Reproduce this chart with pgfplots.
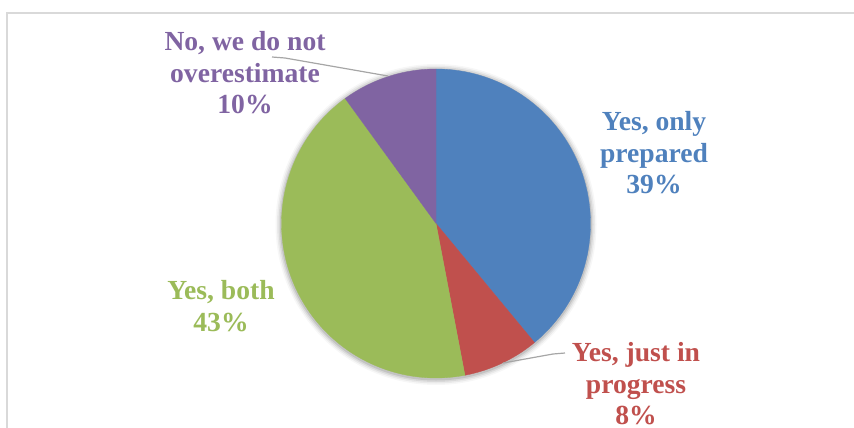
\documentclass[border=0pt]{standalone}
\usepackage{pgfplots}
\pgfplotsset{compat=1.18}
\usepackage{pgfplotstable}
\usepackage{fontspec}
\setmainfont{Liberation Serif}
\definecolor{cblue}{HTML}{4F81BD}
\definecolor{cred}{HTML}{C0504D}
\definecolor{cgreen}{HTML}{9BBB59}
\definecolor{cpurple}{HTML}{8064A2}
\definecolor{frame}{HTML}{D9D9D9}
\definecolor{leader}{HTML}{A6A6A6}
\tikzset{lbl/.style={font=\fontsize{27.6bp}{31.5bp}\selectfont\bfseries, align=center, inner sep=0pt}}
% shares in percent, clockwise from 12 o'clock
\def\vA{39} % Yes, only prepared
\def\vB{8}  % Yes, just in progress
\def\vC{43} % Yes, both
\def\vD{10} % No, we do not overestimate
\def\cx{436}\def\cy{223.5}\def\Rad{154.5}
\pgfmathsetmacro\aA{90}
\pgfmathsetmacro\aB{\aA-\vA*3.6}
\pgfmathsetmacro\aC{\aB-\vB*3.6}
\pgfmathsetmacro\aD{\aC-\vC*3.6}
\pgfmathsetmacro\aE{\aD-\vD*3.6}
\pgfmathsetmacro\rA{\Rad+6}
\pgfmathsetmacro\rB{\Rad+4.5}
\pgfmathsetmacro\rC{\Rad+3}
\pgfmathsetmacro\rD{\Rad+1.5}
\begin{document}
\begin{tikzpicture}
\begin{axis}[
  width=854bp, height=428bp, scale only axis,
  xmin=0, xmax=854, ymin=0, ymax=428, y dir=reverse,
  hide axis, clip=false,
]
% frame
\draw[frame, line width=1.2bp] (axis cs:7,428) -- (axis cs:7,13) -- (axis cs:854,13);
% soft shadow
\fill[black, opacity=0.03] (axis cs:436,224.5) circle [radius=\rA];
\fill[black, opacity=0.05] (axis cs:436,224.5) circle [radius=\rB];
\fill[black, opacity=0.07] (axis cs:436,224.5) circle [radius=\rC];
\fill[black, opacity=0.10] (axis cs:436,224.5) circle [radius=\rD];
\addplot[fill=cblue, draw=cblue, line width=0.3bp, domain=\aB:\aA, samples=100]
  ({\cx+\Rad*cos(x)},{\cy-\Rad*sin(x)}) -- (axis cs:436,223.5) -- cycle;
\addplot[fill=cred, draw=cred, line width=0.3bp, domain=\aC:\aB, samples=40]
  ({\cx+\Rad*cos(x)},{\cy-\Rad*sin(x)}) -- (axis cs:436,223.5) -- cycle;
\addplot[fill=cgreen, draw=cgreen, line width=0.3bp, domain=\aD:\aC, samples=100]
  ({\cx+\Rad*cos(x)},{\cy-\Rad*sin(x)}) -- (axis cs:436,223.5) -- cycle;
\addplot[fill=cpurple, draw=cpurple, line width=0.3bp, domain=\aE:\aD, samples=40]
  ({\cx+\Rad*cos(x)},{\cy-\Rad*sin(x)}) -- (axis cs:436,223.5) -- cycle;
% leader lines
\draw[leader, line width=1.2bp] (axis cs:272,57) -- (axis cs:285,58) -- (axis cs:388,76);
\draw[leader, line width=1.2bp] (axis cs:565,353) -- (axis cs:553,354) -- (axis cs:503,363);
% labels
\node[lbl, text=cblue] at (axis cs:654,153) {Yes, only\\prepared\\39\%};
\node[lbl, text=cred] at (axis cs:636,384) {Yes, just in\\progress\\8\%};
\node[lbl, text=cgreen] at (axis cs:221,306) {Yes, both\\43\%};
\node[lbl, text=cpurple] at (axis cs:245,73) {No, we do not\\overestimate\\10\%};
\end{axis}
\pgfresetboundingbox
\path[use as bounding box] (0,0) rectangle (854bp,428bp);
\end{tikzpicture}
\end{document}
